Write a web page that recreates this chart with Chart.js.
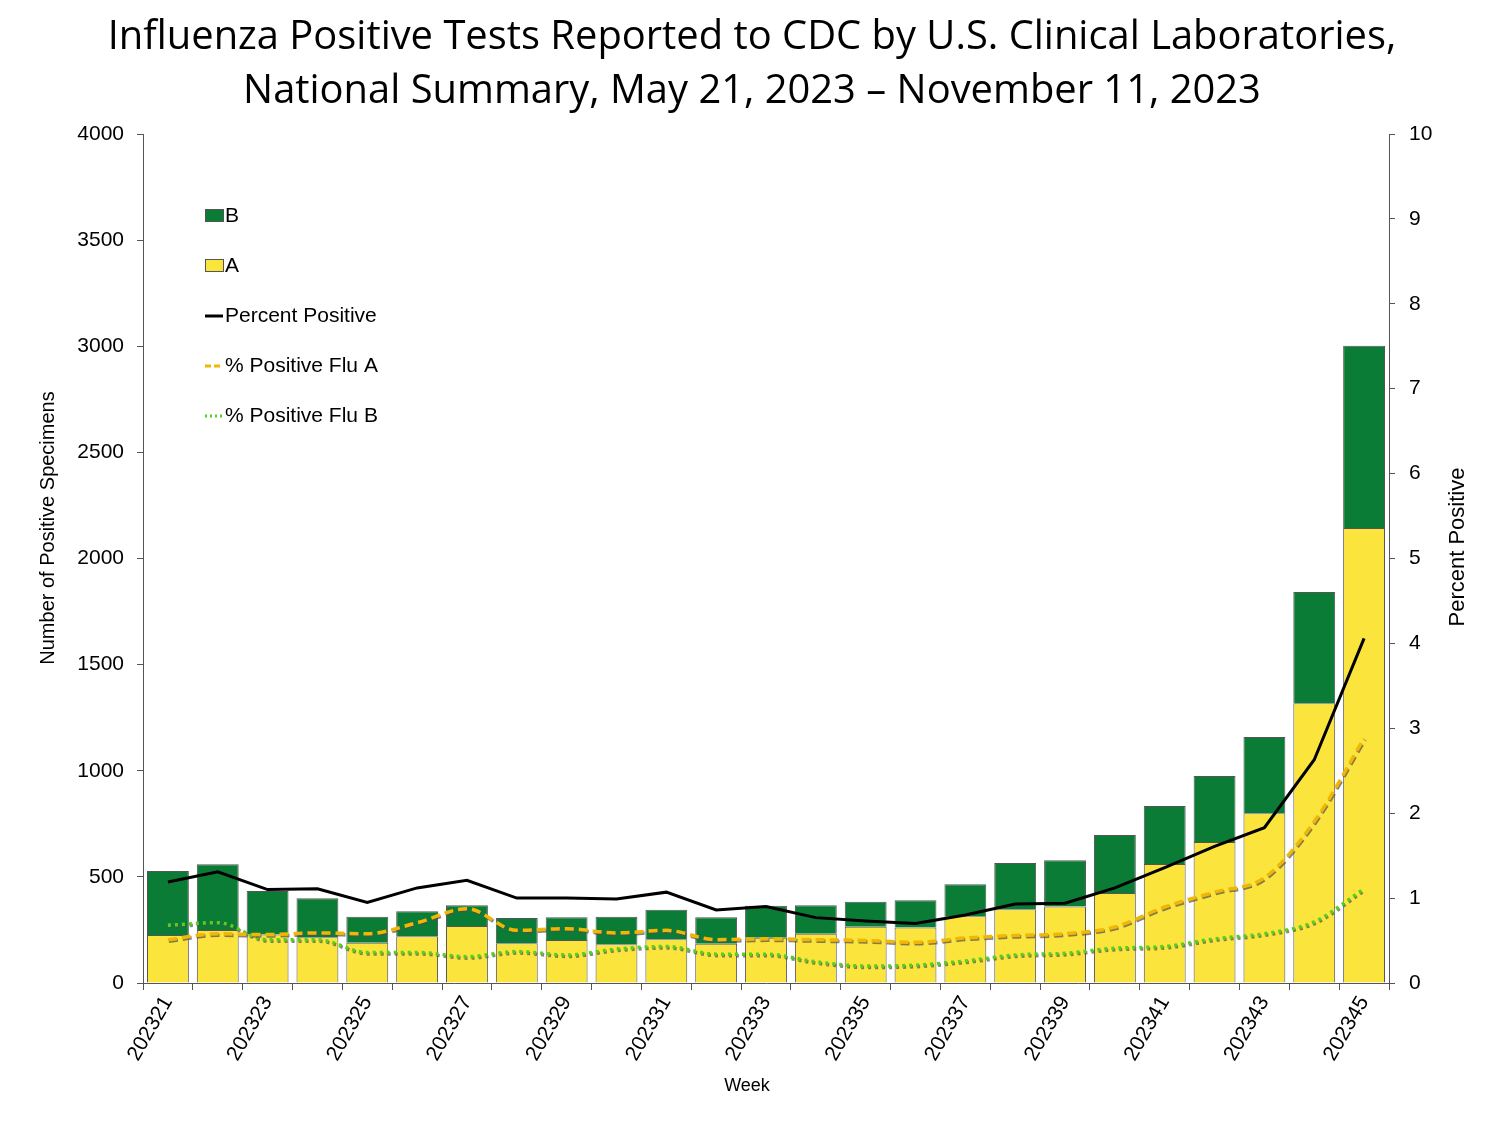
<!DOCTYPE html>
<html>
<head>
<meta charset="utf-8">
<script src="https://cdn.jsdelivr.net/npm/chart.js@4"></script>
<style>
  body { margin: 0; background: #fff; }
  #wrap { width: 1500px; height: 1125px; }
</style>
</head>
<body>
<div id="wrap"><canvas id="chart" width="1500" height="1125"></canvas></div>
<script>
const weeks = ['202321','202322','202323','202324','202325','202326','202327','202328','202329','202330',
  '202331','202332','202333','202334','202335','202336','202337','202338','202339','202340',
  '202341','202342','202343','202344','202345'];
const fluA = [226,250,229,215,190,220,268,187,203,182,206,185,213,232,265,261,314,347,360,424,561,664,800,1318,2144];
const totals = [528,559,433,399,312,338,366,306,310,312,345,310,364,366,383,390,465,565,578,697,834,975,1159,1842,3002];
const fluB = totals.map((t, i) => t - fluA[i]);
const pctPositive = [1.19,1.31,1.10,1.11,0.95,1.12,1.21,1.00,1.00,0.99,1.07,0.86,0.90,0.77,0.73,0.70,0.80,0.93,0.94,1.12,1.36,1.61,1.83,2.63,4.06];
const pctFluA = [0.51,0.58,0.57,0.59,0.58,0.71,0.875,0.62,0.64,0.59,0.62,0.51,0.52,0.51,0.50,0.48,0.53,0.56,0.58,0.66,0.895,1.07,1.24,1.90,2.88];
const pctFluB = [0.68,0.71,0.51,0.51,0.36,0.36,0.31,0.37,0.33,0.40,0.43,0.34,0.34,0.25,0.20,0.21,0.26,0.33,0.35,0.41,0.43,0.52,0.58,0.72,1.11];

const titleLines = ['Influenza Positive Tests Reported to CDC by U.S. Clinical Laboratories,',
  'National Summary, May 21, 2023 \u2013 November 11, 2023'];

const green = '#0b7c35';
const yellow = '#fbe53c';
const axisFont = '"Liberation Sans", Arial, sans-serif';

// title, axis titles and legend drawn by hand
const extras = {
  id: 'extras',
  beforeDatasetDraw(chart, args) {
    const ds = chart.data.datasets[args.index];
    if (ds.shadow) {
      const ctx = chart.ctx;
      ctx.save();
      ctx.shadowColor = 'rgba(80,80,80,0.7)';
      ctx.shadowOffsetX = 1;
      ctx.shadowOffsetY = 1.5;
      ctx.shadowBlur = 0;
    }
  },
  afterDatasetDraw(chart, args) {
    const ds = chart.data.datasets[args.index];
    if (ds.shadow) chart.ctx.restore();
  },
  afterDraw(chart) {
    const ctx = chart.ctx;
    ctx.save();
    ctx.fillStyle = '#000';
    ctx.textAlign = 'center';
    ctx.textBaseline = 'middle';
    ctx.font = '40px "Open Sans", sans-serif';
    const w = ctx.measureText(titleLines[0]).width;
    const size = Math.round(40 * 1290 / w * 10) / 10;
    ctx.font = size + 'px "Open Sans", sans-serif';
    ctx.fillText(titleLines[0], 752, 38);
    ctx.fillText(titleLines[1], 752, 92);

    // axis titles
    ctx.font = '18px ' + axisFont;
    ctx.fillText('Week', 747, 1086);
    ctx.save();
    ctx.translate(48, 528);
    ctx.rotate(-Math.PI / 2);
    ctx.font = '20px ' + axisFont;
    ctx.fillText('Number of Positive Specimens', 0, 0);
    ctx.restore();
    ctx.save();
    ctx.translate(1458, 547);
    ctx.rotate(-Math.PI / 2);
    ctx.font = '22px ' + axisFont;
    ctx.fillText('Percent Positive', 0, 0);
    ctx.restore();

    // legend
    ctx.textAlign = 'left';
    ctx.font = '21px ' + axisFont;
    const items = [
      { label: 'B', type: 'box', color: green },
      { label: 'A', type: 'box', color: yellow },
      { label: 'Percent Positive', type: 'line', color: '#000', dash: [] },
      { label: '% Positive Flu A', type: 'line', color: '#f2b705', dash: [6, 3] },
      { label: '% Positive Flu B', type: 'line', color: '#55d11b', dash: [2, 3] }
    ];
    items.forEach((it, i) => {
      const y = 215 + i * 50;
      if (it.type === 'box') {
        ctx.fillStyle = it.color;
        ctx.fillRect(205, y - 5, 18, 12);
        ctx.strokeStyle = '#555';
        ctx.lineWidth = 1;
        ctx.strokeRect(205.5, y - 5.5, 18, 12);
      } else {
        ctx.strokeStyle = it.color;
        ctx.lineWidth = 3;
        ctx.setLineDash(it.dash);
        ctx.beginPath();
        ctx.moveTo(205, y + 1);
        ctx.lineTo(223, y + 1);
        ctx.stroke();
        ctx.setLineDash([]);
      }
      ctx.fillStyle = '#000';
      ctx.fillText(it.label, 225, y + 1);
    });
    ctx.restore();
  }
};

new Chart(document.getElementById('chart'), {
  type: 'bar',
  data: {
    labels: weeks,
    datasets: [
      { type: 'line', label: 'Percent Positive', data: pctPositive, yAxisID: 'y1', borderColor: '#000',
        borderWidth: 3, pointRadius: 0, tension: 0, order: 0 },
      { type: 'line', label: '% Positive Flu A', data: pctFluA, yAxisID: 'y1', borderColor: '#f2b705',
        borderWidth: 3.5, borderDash: [9, 5], pointRadius: 0, tension: 0.4, cubicInterpolationMode: 'monotone', order: 0, shadow: true },
      { type: 'line', label: '% Positive Flu B', data: pctFluB, yAxisID: 'y1', borderColor: '#55d11b',
        borderWidth: 3.5, borderDash: [3, 4], pointRadius: 0, tension: 0.4, cubicInterpolationMode: 'monotone', order: 0, shadow: true },
      { label: 'A', data: fluA, backgroundColor: yellow, borderColor: '#555', borderWidth: 1,
        stack: 's', yAxisID: 'y', categoryPercentage: 0.84, barPercentage: 1, order: 1 },
      { label: 'B', data: fluB, backgroundColor: green, borderColor: '#555', borderWidth: 1,
        stack: 's', yAxisID: 'y', categoryPercentage: 0.84, barPercentage: 1, order: 1 }
    ]
  },
  options: {
    responsive: false,
    animation: false,
    layout: { padding: { top: 134, bottom: 0, left: 0, right: 0 } },
    plugins: {
      legend: { display: false },
      title: { display: false },
      tooltip: { enabled: false }
    },
    scales: {
      x: {
        stacked: true,
        offset: true,
        grid: { display: true, offset: true, drawOnChartArea: false, drawTicks: true, tickLength: 7, color: '#555' },
        border: { color: '#555', width: 1 },
        ticks: {
          autoSkip: false, minRotation: 60, maxRotation: 60, padding: 2,
          color: '#000', font: { family: axisFont, size: 21 },
          callback: function (value, index) { return index % 2 === 0 ? this.getLabelForValue(value) : ''; }
        },
        afterFit: s => { s.height = 142; }
      },
      y: {
        position: 'left',
        stacked: true,
        min: 0, max: 4000,
        grid: { drawOnChartArea: false, drawTicks: true, tickLength: 6, color: '#555' },
        border: { color: '#555', width: 1 },
        ticks: { stepSize: 500, padding: 13, color: '#000', font: { family: axisFont, size: 21 },
          callback: v => String(v) },
        afterFit: s => { s.width = 143; }
      },
      y1: {
        position: 'right',
        min: 0, max: 10,
        grid: { drawOnChartArea: false, drawTicks: true, tickLength: 6, color: '#555' },
        border: { color: '#555', width: 1 },
        ticks: { stepSize: 1, padding: 14, color: '#000', font: { family: axisFont, size: 21 } },
        afterFit: s => { s.width = 111; }
      }
    }
  },
  plugins: [extras]
});
</script>
</body>
</html>
